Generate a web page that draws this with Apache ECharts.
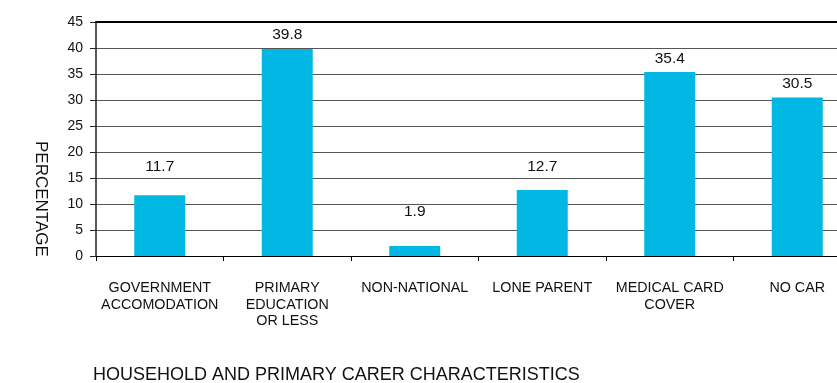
<!DOCTYPE html>
<html>
<head>
<meta charset="utf-8">
<script src="https://cdn.jsdelivr.net/npm/echarts@6/dist/echarts.min.js"></script>
<style>
  html, body { margin: 0; padding: 0; background: #fff; }
  #chart { width: 837px; height: 383px; }
</style>
</head>
<body>
<div id="chart"></div>
<script>
// Household and primary carer characteristics (percent)
const categories = [
  'GOVERNMENT\nACCOMODATION',
  'PRIMARY\nEDUCATION\nOR LESS',
  'NON-NATIONAL',
  'LONE PARENT',
  'MEDICAL CARD\nCOVER',
  'NO CAR'
];
const percentages = [11.7, 39.8, 1.9, 12.7, 35.4, 30.5];
const yTicks = [0, 5, 10, 15, 20, 25, 30, 35, 40, 45];

// gap between each bar top and its value label, in px
const labelGaps = [20, 6, 26, 15, 5, 6];

const FONT = '"Liberation Sans", Arial, sans-serif';
const chart = echarts.init(document.getElementById('chart'), null, { renderer: 'canvas' });

chart.setOption({
  animation: false,
  backgroundColor: '#ffffff',
  // plot area runs past the right edge of the canvas
  grid: {
    left: 96, top: 22, height: 234, width: 765,
    containLabel: false, outerBoundsMode: 'none'
  },
  xAxis: [{
    type: 'category',
    data: categories,
    boundaryGap: true,
    axisLine: { show: true, lineStyle: { color: '#000', width: 1 } },
    axisTick: { show: true, length: 5, alignWithLabel: false, lineStyle: { color: '#000' } },
    axisLabel: {
      interval: 0, margin: 24, color: '#111',
      fontFamily: FONT, fontSize: 14.3, lineHeight: 16.5, align: 'center'
    },
    splitLine: { show: false }
  }, {
    type: 'category',
    position: 'top',
    data: categories,
    axisLine: { show: true, lineStyle: { color: '#000', width: 2 } },
    axisTick: { show: false },
    axisLabel: { show: false }
  }],
  yAxis: {
    type: 'value',
    min: yTicks[0],
    max: yTicks[yTicks.length - 1],
    interval: yTicks[1] - yTicks[0],
    axisLine: { show: true, lineStyle: { color: '#222', width: 1.5 } },
    axisTick: { show: true, length: 6, lineStyle: { color: '#222' } },
    axisLabel: { margin: 13, color: '#111', fontFamily: FONT, fontSize: 14 },
    splitLine: { show: true, lineStyle: { color: '#555', width: 1 } }
  },
  series: [{
    type: 'bar',
    data: percentages.map((v, i) => ({ value: v, label: { distance: labelGaps[i] } })),
    barWidth: 51,
    itemStyle: { color: '#00b8e3' },
    label: {
      show: true, position: 'top', color: '#111',
      fontFamily: FONT, fontSize: 15.5,
      formatter: p => p.value.toFixed(1)
    }
  }],
  graphic: [{
    type: 'text',
    left: 93, top: 366,
    style: {
      text: 'HOUSEHOLD AND PRIMARY CARER CHARACTERISTICS',
      font: '18px ' + FONT, fill: '#111'
    }
  }, {
    type: 'text',
    x: 32, y: 141,
    rotation: -Math.PI / 2,
    style: {
      text: 'PERCENTAGE',
      font: '17px ' + FONT, fill: '#111',
      textAlign: 'left', textVerticalAlign: 'bottom'
    }
  }]
});
</script>
</body>
</html>
